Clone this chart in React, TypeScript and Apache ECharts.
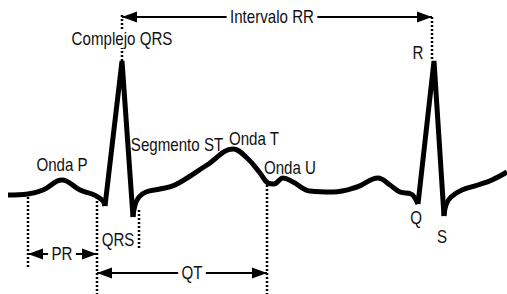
import React, { useEffect, useRef } from "react";
import * as echarts from "echarts";

// ECG trace: [time, amplitude]  (amplitude 0 = isoelectric baseline)
const waveP = [[8, 0], [28, 1], [43, 5], [62, 15], [80, 5], [92, 1], [98, -2], [103, -6], [105, -11]];
const qrs1 = [[105, -11], [122, 134], [133, -22]];
const waveSTU = [
  [133, -22], [135, -10], [139, -2], [146, 3], [160, 6], [175, 10], [207, 30], [233, 46],
  [247, 37], [260, 22], [268, 12], [274, 11], [283, 17], [293, 13], [310, 4], [333, 3],
  [357, 8], [378, 17], [390, 10], [400, 3], [411, 1], [415, -3], [418, -9],
];
const qrs2 = [[418, -9], [434, 134], [444, -21]];
const waveTail = [[444, -21], [446, -10], [451, -2], [462, 5], [478, 10], [492, 15], [507, 23]];

// dotted guides: [time, amplitude from, amplitude to]
const guides = [
  [28, -2, -72],
  [97, -2, -99],
  [139, -15, -53],
  [267, 10, -99],
  [122, 180, 134],
  [432, 178, 134],
];

// intervals: name, start, end, amplitude level, label position
const intervalNames = ["Intervalo RR", "PR", "QT"];
const intervalStart = [122, 28, 97];
const intervalEnd = [432, 97, 267];
const intervalLevel = [178, -59, -78];
const intervalLabelAt = [272, 62, 192];

// wave labels
const waveLabels = ["Complejo QRS", "Onda P", "Segmento ST", "Onda T", "Onda U", "R", "Q", "S", "QRS"];
const waveLabelX = [122, 62, 177, 254, 290, 418, 416, 442, 118];
const waveLabelY = [156, 30, 50, 56, 27, 142, -23, -42, -45];
const waveLabelMasked = [true, false, false, false, false, false, false, false, false];

const FONT = "'Liberation Sans', Arial, sans-serif";
const INK = "#111";
const ARROW_L = 15;
const ARROW_W = 11;
const NARROW = 0.84;

export default function App() {
  const ref = useRef<HTMLDivElement>(null);
  useEffect(() => {
    const chart = echarts.init(ref.current!, null, { renderer: "svg" });

    const traceSeries = [waveP, qrs1, waveSTU, qrs2, waveTail].map((d, i) => ({
      type: "line",
      data: d,
      smooth: i % 2 === 0 ? 0.4 : false,
      symbol: "none",
      lineStyle: { color: "#000", width: 5, join: i % 2 === 0 ? "round" : "bevel" },
      z: 3,
    }));

    const guideSeries = guides.map((g) => ({
      type: "line",
      data: [[g[0], g[1]], [g[0], g[2]]],
      symbol: "none",
      lineStyle: { color: "#000", width: 2.5, type: [2, 2] },
      z: 2,
    }));

    const intervalSeries = intervalNames.map((_, i) => ({
      type: "line",
      data: [[intervalStart[i], intervalLevel[i]], [intervalEnd[i], intervalLevel[i]]],
      symbol: "none",
      lineStyle: { color: "#000", width: 2 },
      z: 4,
    }));

    const headsLeft = intervalNames.map((_, i) => [intervalStart[i] + ARROW_L / 2, intervalLevel[i]]);
    const headsRight = intervalNames.map((_, i) => [intervalEnd[i] - ARROW_L / 2, intervalLevel[i]]);

    const headSeries = [
      {
        type: "scatter",
        data: headsLeft,
        symbol: "path://M10,0 L0,5 L10,10 Z",
        symbolSize: [ARROW_L, ARROW_W],
        itemStyle: { color: "#000", opacity: 1 },
        z: 5,
      },
      {
        type: "scatter",
        data: headsRight,
        symbol: "path://M0,0 L10,5 L0,10 Z",
        symbolSize: [ARROW_L, ARROW_W],
        itemStyle: { color: "#000", opacity: 1 },
        z: 5,
      },
    ];

    chart.setOption({
      animation: false,
      backgroundColor: "#fff",
      grid: { left: 0, right: 0, top: 0, bottom: 0 },
      xAxis: { type: "value", min: 0, max: 507, show: false },
      yAxis: { type: "value", min: -99, max: 195, show: false },
      series: [...guideSeries, ...traceSeries, ...intervalSeries, ...headSeries],
    });

    const toPx = (x: number, y: number) =>
      chart.convertToPixel({ gridIndex: 0 }, [x, y]) as number[];

    const textEl = (s: string, p: number[], bg: boolean, pad: number) => ({
      type: "text",
      x: p[0],
      y: p[1],
      scaleX: NARROW,
      z: 100,
      style: {
        text: s,
        fill: INK,
        font: `18px ${FONT}`,
        align: "center",
        verticalAlign: "middle",
        ...(bg ? { backgroundColor: "#fff", padding: [0, pad] } : {}),
      },
    });

    const graphics = [
      ...intervalNames.map((n, i) => textEl(n, toPx(intervalLabelAt[i], intervalLevel[i]), true, 4)),
      ...waveLabels.map((n, i) => textEl(n, toPx(waveLabelX[i], waveLabelY[i]), waveLabelMasked[i], 0)),
    ];

    chart.setOption({ graphic: graphics });
    return () => chart.dispose();
  }, []);
  return (
    <div
      ref={ref}
      style={{ position: "fixed", left: 0, top: 0, width: 507, height: 294, background: "#fff" }}
    />
  );
}
